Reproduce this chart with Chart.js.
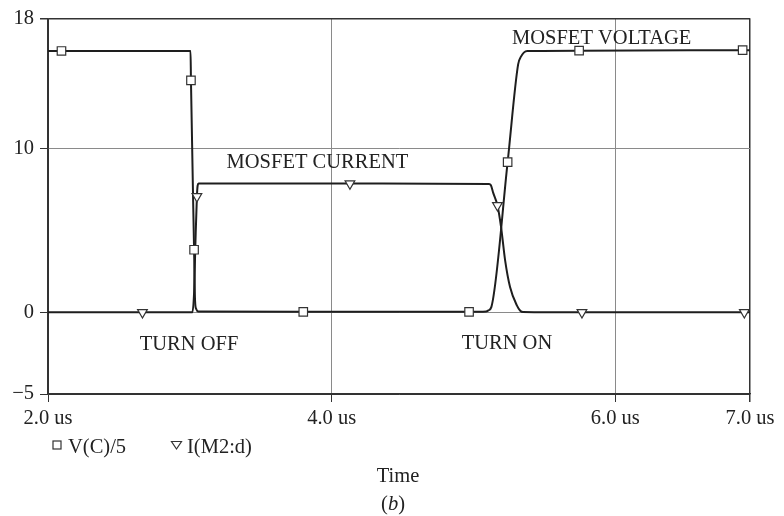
<!DOCTYPE html>
<html>
<head>
<meta charset="utf-8">
<script src="https://cdn.jsdelivr.net/npm/chart.js@4.4.0/dist/chart.umd.min.js"></script>
<style>
  html, body { margin: 0; padding: 0; background: #fff; }
  #wrap { width: 784px; height: 516px; }
</style>
</head>
<body>
<div id="wrap"><canvas id="mosfet-chart" width="784" height="516"></canvas></div>
<script>
// V(C)/5 trace (time in us)
let vTime = [2.0, 3.005, 3.008, 3.030, 3.037, 3.045, 3.06, 3.8, 4.969, 5.09, 5.105, 5.126, 5.241, 5.315, 5.335, 5.355, 5.38, 5.745, 6.95];
let vVolt = [16.0, 16.0, 14.2, 3.83, 0.7, 0.2, 0.05, 0.03, 0.03, 0.05, 0.12, 0.32, 9.2, 15.18, 15.65, 15.9, 16.0, 16.02, 16.05];
let vMarkTime = [2.095, 3.008, 3.030, 3.8, 4.969, 5.241, 5.745, 6.898];
let vMarkVolt = [16.0, 14.2, 3.83, 0.03, 0.03, 9.2, 16.02, 16.05];

// I(M2:d) trace
let iTime = [2.0, 2.666, 3.018, 3.03, 3.04, 3.05, 3.055, 3.062, 4.129, 5.11, 5.122, 5.14, 5.169, 5.195, 5.223, 5.258, 5.306, 5.33, 5.35, 5.765, 6.95];
let iAmp = [0, 0, 0, 1.2, 4.4, 7.1, 7.75, 7.88, 7.88, 7.86, 7.8, 7.3, 6.55, 5.2, 3.2, 1.55, 0.43, 0.1, 0.02, 0, 0];
let iMarkTime = [2.666, 3.05, 4.129, 5.169, 5.765, 6.91];
let iMarkAmp = [0, 7.1, 7.88, 6.55, 0, 0];

let xTicks = [2.0, 4.0, 6.0, 6.95];
let xTickLabels = ["2.0 us", "4.0 us", "6.0 us", "7.0 us"];
let yTicks = [-5, 0, 10, 18];
let yTickLabels = ["\u22125", "0", "10", "18"];

let notes = [
  { text: "MOSFET VOLTAGE", t: 5.272, v: 16.4 },
  { text: "MOSFET CURRENT", t: 3.259, v: 8.81 },
  { text: "TURN OFF", t: 2.647, v: -2.28 },
  { text: "TURN ON", t: 4.917, v: -2.26 },
];

const ink = "#222";
const gridGray = "#8a8a8a";
const serif = "20.5px 'Liberation Serif', 'Times New Roman', serif";

function toPoints(xs, ys) {
  return xs.map((x, i) => ({ x: x, y: ys[i] }));
}

const figureText = {
  id: "figureText",
  afterDraw(chart) {
    let ctx = chart.ctx;
    let xs = chart.scales.x;
    let ys = chart.scales.y;
    ctx.save();
    ctx.fillStyle = ink;
    ctx.font = serif;
    ctx.textAlign = "left";
    ctx.textBaseline = "alphabetic";
    notes.forEach((n) => {
      ctx.fillText(n.text, xs.getPixelForValue(n.t), ys.getPixelForValue(n.v));
    });

    // legend below the axis
    ctx.strokeStyle = "#333";
    ctx.lineWidth = 1.2;
    ctx.fillStyle = "#fff";
    ctx.fillRect(53, 441, 8, 8);
    ctx.strokeRect(53, 441, 8, 8);
    ctx.beginPath();
    ctx.moveTo(171.5, 441.5);
    ctx.lineTo(181.5, 441.5);
    ctx.lineTo(176.5, 449);
    ctx.closePath();
    ctx.fill();
    ctx.stroke();
    ctx.fillStyle = ink;
    ctx.fillText("V(C)/5", 68, 453);
    ctx.fillText("I(M2:d)", 187, 453);

    ctx.textAlign = "center";
    ctx.fillText("Time", 398, 482);

    // (b) with italic b
    let italic = "italic " + serif;
    ctx.textAlign = "left";
    let wOpen = ctx.measureText("(").width;
    ctx.font = italic;
    let wB = ctx.measureText("b").width;
    ctx.font = serif;
    let wClose = ctx.measureText(")").width;
    let x0 = 393 - (wOpen + wB + wClose) / 2;
    ctx.fillText("(", x0, 510);
    ctx.font = italic;
    ctx.fillText("b", x0 + wOpen, 510);
    ctx.font = serif;
    ctx.fillText(")", x0 + wOpen + wB, 510);
    ctx.restore();
  },
};

const whiteBg = {
  id: "whiteBg",
  beforeDraw(chart) {
    let ctx = chart.ctx;
    ctx.save();
    ctx.fillStyle = "#fff";
    ctx.fillRect(0, 0, chart.width, chart.height);
    ctx.restore();
  },
};

let lineStyle = {
  borderColor: "#1e1e1e",
  borderWidth: 2,
  pointRadius: 0,
  cubicInterpolationMode: "monotone",
  fill: false,
  order: 2,
};

let markStyle = {
  showLine: false,
  pointBackgroundColor: "#fff",
  pointBorderColor: "#333",
  pointBorderWidth: 1.2,
  order: 1,
};

let mosfetChart = new Chart("mosfet-chart", {
  type: "line",
  data: {
    datasets: [
      Object.assign({ label: "V(C)/5", data: toPoints(vTime, vVolt) }, lineStyle),
      Object.assign({ label: "I(M2:d)", data: toPoints(iTime, iAmp) }, lineStyle),
      Object.assign(
        { label: "V marks", data: toPoints(vMarkTime, vMarkVolt), pointStyle: "rect", pointRadius: 6 },
        markStyle
      ),
      Object.assign(
        { label: "I marks", data: toPoints(iMarkTime, iMarkAmp), pointStyle: "triangle", pointRotation: 180, pointRadius: 5.6 },
        markStyle
      ),
    ],
  },
  options: {
    responsive: false,
    animation: false,
    devicePixelRatio: 1,
    layout: { padding: { left: 0, top: 17, right: 34, bottom: 0 } },
    plugins: {
      legend: { display: false },
      tooltip: { enabled: false },
      title: { display: false },
    },
    scales: {
      x: {
        type: "linear",
        min: 2.0,
        max: 6.95,
        afterBuildTicks: (axis) => {
          axis.ticks = xTicks.map((v) => ({ value: v }));
        },
        afterFit: (axis) => {
          axis.height = 122;
        },
        ticks: {
          autoSkip: false,
          maxRotation: 0,
          padding: 4,
          color: ink,
          font: { family: "'Liberation Serif', serif", size: 20.5 },
          callback: (value, index) => xTickLabels[index],
        },
        grid: {
          color: (c) => (c.tick && (c.tick.value === 2.0 || c.tick.value === 6.95) ? "#333" : gridGray),
          lineWidth: (c) => (c.tick && c.tick.value === 6.95 ? 1.5 : 1),
          tickColor: "#333",
          tickLength: 8,
        },
        border: { color: "#333", width: 1.5 },
      },
      y: {
        min: -5,
        max: 18,
        afterBuildTicks: (axis) => {
          axis.ticks = yTicks.map((v) => ({ value: v }));
        },
        afterFit: (axis) => {
          axis.width = 48;
        },
        ticks: {
          autoSkip: false,
          padding: 6,
          color: ink,
          font: { family: "'Liberation Serif', serif", size: 20.5 },
          callback: (value, index) => yTickLabels[index],
        },
        grid: {
          color: (c) => (c.tick && (c.tick.value === 18 || c.tick.value === -5) ? "#333" : gridGray),
          lineWidth: (c) => (c.tick && c.tick.value === 18 ? 1.5 : 1),
          tickColor: "#333",
          tickLength: 8,
        },
        border: { color: "#333", width: 1.5 },
      },
    },
  },
  plugins: [whiteBg, figureText],
});
</script>
</body>
</html>
